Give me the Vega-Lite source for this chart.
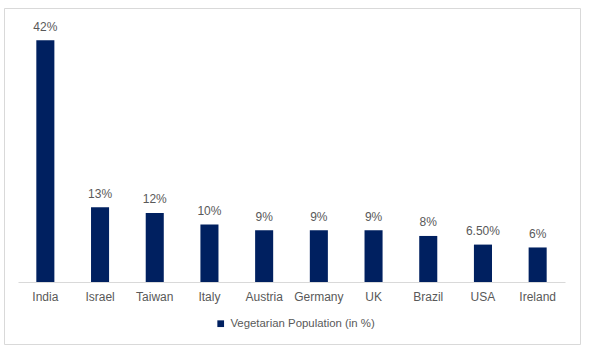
{
  "$schema": "https://vega.github.io/schema/vega-lite/v6.json",
  "width": 576,
  "height": 336,
  "autosize": {"type": "none"},
  "padding": {"left": 4, "top": 8, "right": 11, "bottom": 10},
  "background": "white",
  "config": {
    "view": {"stroke": "#d9d9d9", "strokeWidth": 1, "fill": "white"},
    "font": "Liberation Sans"
  },
  "data": {
    "values": [
      {"country": "India", "value": 42, "label": "42%"},
      {"country": "Israel", "value": 13, "label": "13%"},
      {"country": "Taiwan", "value": 12, "label": "12%"},
      {"country": "Italy", "value": 10, "label": "10%"},
      {"country": "Austria", "value": 9, "label": "9%"},
      {"country": "Germany", "value": 9, "label": "9%"},
      {"country": "UK", "value": 9, "label": "9%"},
      {"country": "Brazil", "value": 8, "label": "8%"},
      {"country": "USA", "value": 6.5, "label": "6.50%"},
      {"country": "Ireland", "value": 6, "label": "6%"}
    ]
  },
  "encoding": {
    "x": {
      "field": "country",
      "type": "nominal",
      "sort": null,
      "scale": {"range": [14, 561], "paddingInner": 0.67, "paddingOuter": 0.335},
      "axis": {
        "title": null,
        "offset": -62,
        "ticks": false,
        "domainColor": "#d9d9d9",
        "domainWidth": 1,
        "labelAngle": 0,
        "labelFontSize": 12,
        "labelColor": "#595959",
        "labelPadding": 9,
        "grid": false
      }
    },
    "y": {
      "field": "value",
      "type": "quantitative",
      "scale": {"domain": [0, 45], "range": [274, 15], "nice": false, "zero": true},
      "axis": null
    }
  },
  "layer": [
    {
      "mark": {"type": "bar"},
      "encoding": {
        "color": {
          "datum": "Vegetarian Population (in %)",
          "scale": {"range": ["#002060"]},
          "legend": {
            "title": null,
            "orient": "none",
            "legendX": 211,
            "legendY": 310,
            "symbolType": "square",
            "symbolSize": 45,
            "symbolStrokeWidth": 0,
            "labelFontSize": 11.4,
            "labelColor": "#595959",
            "labelOffset": 4
          }
        }
      }
    },
    {
      "mark": {"type": "text", "baseline": "alphabetic", "dy": -9.5, "fontSize": 12, "color": "#595959"},
      "encoding": {"text": {"field": "label"}}
    }
  ]
}
